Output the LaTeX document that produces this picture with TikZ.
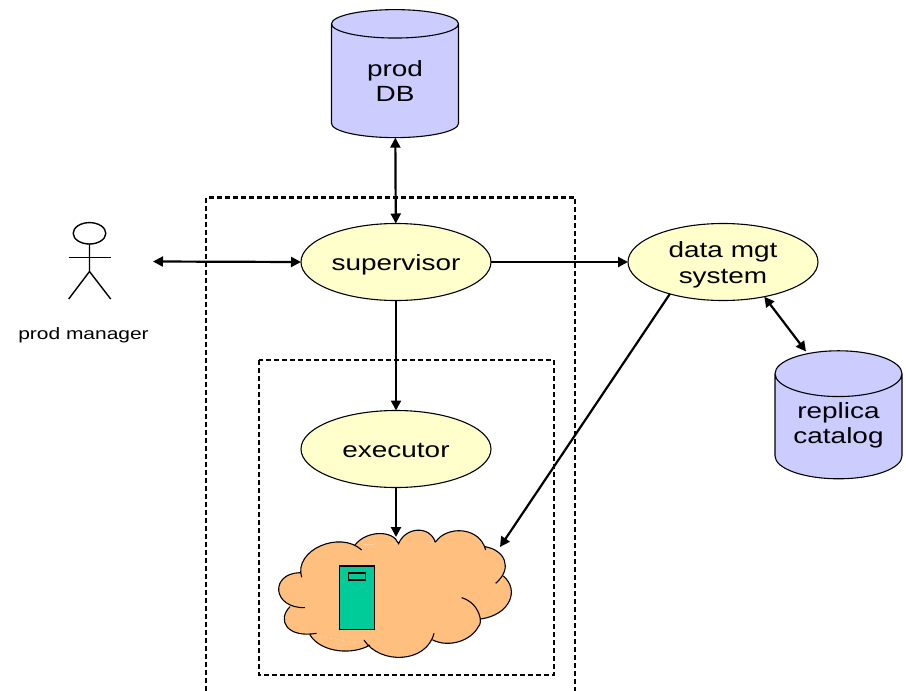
\documentclass[tikz,border=0pt]{standalone}
\usepackage{fontspec}
\setmainfont[FakeStretch=1.27]{Liberation Sans}
\usetikzlibrary{shapes.geometric,arrows.meta}
\definecolor{ell}{HTML}{FFFFCC}
\definecolor{cyl}{HTML}{CCCCFF}
\definecolor{cloudc}{HTML}{FFBF7F}
\definecolor{srv}{HTML}{00CC99}
\newcommand\lowtext[1]{\raisebox{-3pt}[\height][\depth]{\begin{tabular}{@{}c@{}}#1\end{tabular}}}
\newcommand\cloudlobes{
  (445,133) .. controls (465,80) and (540,75) .. (556,127)
  (556,127) .. controls (590,75) and (690,80) .. (707,150)
  (705,140) .. controls (765,150) and (790,205) .. (737,250)
  (760,228) .. controls (810,270) and (780,345) .. (692,357)
  (635,293) .. controls (690,310) and (700,370) .. (685,380) .. controls (665,420) and (600,445) .. (548,420)
  (552,400) .. controls (530,490) and (390,495) .. (342,420)
  (360,435) .. controls (310,465) and (215,460) .. (180,405)
  (200,400) .. controls (110,415) and (80,360) .. (120,320)
  (165,323) .. controls (65,325) and (60,220) .. (150,218)
  (155,232) .. controls (130,150) and (270,90) .. (335,150)
  (315,135) .. controls (350,90) and (430,90) .. (445,130)
}
\tikzset{
  dbox/.style={line width=2.2pt,dash pattern=on 5pt off 3pt},
  proc/.style={ellipse,draw=black,line width=1.1pt,fill=ell,minimum width=190pt,minimum height=77pt,inner sep=0pt,outer sep=0pt,align=center,font=\fontsize{22}{25}\selectfont},
  store/.style={cylinder,shape border rotate=90,aspect=0.508,draw=black,line width=1.1pt,fill=cyl,minimum width=127pt,minimum height=128pt,inner sep=0pt,outer sep=0pt,align=center,font=\fontsize{22}{25}\selectfont},
  link/.style={line width=2.2pt,-{Triangle[length=10pt,width=10pt]}},
  blink/.style={line width=2.2pt,{Triangle[length=10pt,width=10pt]}-{Triangle[length=10pt,width=10pt]}},
  person/.style={line width=1.4pt},
  cloudline/.style={line width=1.1pt,draw=black}
}
\begin{document}
\begin{tikzpicture}[x=1pt,y=-1pt]
\useasboundingbox (0,0) rectangle (906,691);
% dashed boxes
\draw[dbox] (206,691) -- (206,197.5) -- (575,197.5) -- (575,691);
\draw[dbox] (259,360) rectangle (554,675);
% cloud
\begin{scope}[shift={(250,500)},x=0.3333pt,y=-0.3333pt]
\fill[cloudc] (445,130) -- (556,127) -- (705,140) -- (760,228) -- (692,357) -- (550,420) -- (360,435) -- (180,405) -- (120,320) -- (150,218) -- (315,135) -- cycle;
\fill[cloudc] \cloudlobes;
\draw[cloudline] \cloudlobes;
\end{scope}
\coordinate (cloudtop) at (396,537);
\coordinate (cloudright) at (500,547);
% server
\draw[fill=srv,line width=1.1pt] (339.5,566) rectangle (374.5,629.5);
\draw[fill=srv,line width=1.1pt] (348.5,573) rectangle (365.5,580);
% nodes
\node[store] (db) at (395,81) {prod\\DB};
\node[store] (rep) at (838.5,426.5) {\raisebox{1pt}[\height][\depth]{\begin{tabular}{@{}c@{}}replica\\catalog\end{tabular}}};
\node[proc] (sup) at (396,262) {\lowtext{supervisor}};
\node[proc] (exe) at (396,449) {\lowtext{executor}};
\node[proc] (dm) at (723,262) {\lowtext{data mgt\\[1pt]system}};
\coordinate (repin) at (806,351.5);
\coordinate (mgrend) at (153,261.5);
% person
\draw[person] (89.5,233.3) ellipse [x radius=16.3pt,y radius=10.7pt];
\draw[person] (89.5,244) -- (89.5,271.5) -- (68.7,299);
\draw[person] (89.5,271.5) -- (110.7,299);
\draw[person] (68.7,257.7) -- (110.7,257.7);
\node[font=\fontsize{16.5}{19}\selectfont,inner sep=0pt] (mgr) at (83.5,335) {prod manager};
% connectors
\draw[blink] (mgrend) -- (sup.west);
\draw[blink] (db) -- (sup);
\draw[link] (sup) -- (dm);
\draw[link] (sup) -- (exe);
\draw[link] (exe) -- (cloudtop);
\draw[blink] (dm.-40) -- (repin);
\draw[link] (dm.211) -- (cloudright);
\end{tikzpicture}
\end{document}
